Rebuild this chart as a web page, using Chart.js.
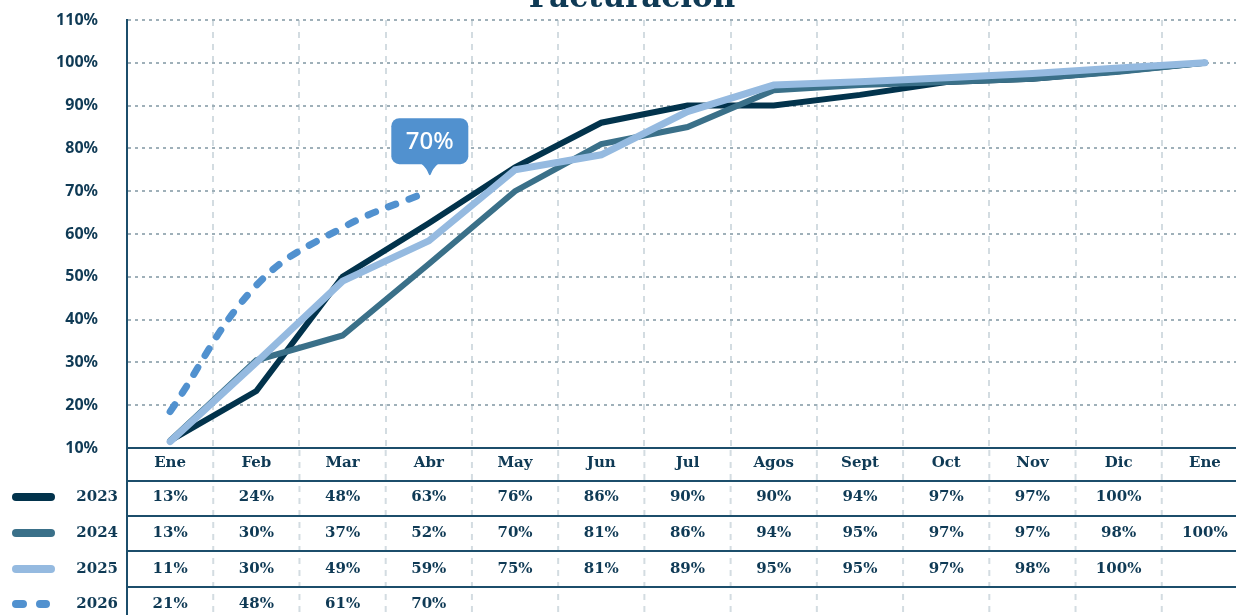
<!DOCTYPE html>
<html>
<head>
<meta charset="utf-8">
<script src="https://cdn.jsdelivr.net/npm/chart.js@4/dist/chart.umd.min.js"></script>
<style>
  html, body { margin: 0; padding: 0; background: #fff; overflow: hidden; }
  #wrap { width: 1250px; height: 615px; }
</style>
</head>
<body>
<div id="wrap"><canvas id="chart"></canvas></div>
<script>
// categories
const months = ['Ene', 'Feb', 'Mar', 'Abr', 'May', 'Jun', 'Jul', 'Agos', 'Sept', 'Oct', 'Nov', 'Dic', 'Ene'];
const years = ['2023', '2024', '2025', '2026'];

// values as drawn by the lines (%)
const line2023 = [11.7, 23.3, 50, 62.5, 75.6, 86, 90, 90, 92.5, 95.5, 96.3, 98, 100];
const line2024 = [11.7, 30.5, 36.3, 53, 70, 81, 85, 93.6, 94.8, 95.5, 96.3, 97.9, 100];
const line2025 = [11.5, 30, 49, 58.4, 75, 78.5, 88.6, 94.8, 95.6, 96.5, 97.5, 98.8, 100];
const line2026 = [18.5, 48, 61.5, 70];

// values printed in the table under the chart
const table2023 = ['13%', '24%', '48%', '63%', '76%', '86%', '90%', '90%', '94%', '97%', '97%', '100%', ''];
const table2024 = ['13%', '30%', '37%', '52%', '70%', '81%', '86%', '94%', '95%', '97%', '97%', '98%', '100%'];
const table2025 = ['11%', '30%', '49%', '59%', '75%', '81%', '89%', '95%', '95%', '97%', '98%', '100%', ''];
const table2026 = ['21%', '48%', '61%', '70%'];
const tableRows = [table2023, table2024, table2025, table2026];

const C_DARK = '#02334c';
const C_TEAL = '#3a7089';
const C_LIGHT = '#95bae0';
const C_DASH = '#5191cf';
const C_TEXT = '#0f3a55';
const C_RULE = '#1c4e6b';
const SLAB = '"DejaVu Serif", serif';
const SANS = '"Noto Sans", sans-serif';

const rowY = [497, 533, 569, 604];
const ruleY = [481, 516, 551, 587];

const tablePlugin = {
  id: 'tablePlugin',
  afterDraw(chart) {
    const ctx = chart.ctx;
    const x = chart.scales.x;
    const area = chart.chartArea;
    const colW = x.getPixelForValue(1) - x.getPixelForValue(0);
    const bottom = chart.height;
    ctx.save();

    // title, cut off by the top edge
    ctx.fillStyle = C_TEXT;
    ctx.font = 'bold 31px ' + SLAB;
    ctx.textAlign = 'center';
    ctx.textBaseline = 'alphabetic';
    ctx.fillText('Facturación', 632, 7);

    // dashed column separators in the table
    ctx.strokeStyle = '#d3dce1';
    ctx.lineWidth = 2;
    ctx.setLineDash([6, 6]);
    for (let i = 1; i <= months.length; i++) {
      const gx = area.left + i * colW;
      ctx.beginPath();
      ctx.moveTo(gx, area.bottom + 2);
      ctx.lineTo(gx, bottom);
      ctx.stroke();
    }
    ctx.setLineDash([]);

    // table rules
    ctx.strokeStyle = C_RULE;
    ctx.lineWidth = 2;
    ctx.beginPath();
    ctx.moveTo(area.left, area.bottom);
    ctx.lineTo(area.left, bottom);
    ruleY.forEach(y => {
      ctx.moveTo(area.left, y);
      ctx.lineTo(chart.width, y);
    });
    ctx.stroke();

    // table values
    ctx.fillStyle = C_TEXT;
    ctx.font = 'bold 15px ' + SLAB;
    ctx.textAlign = 'center';
    ctx.textBaseline = 'middle';
    tableRows.forEach((row, r) => {
      row.forEach((txt, i) => {
        if (txt) ctx.fillText(txt, x.getPixelForValue(i), rowY[r]);
      });
    });

    // legend column
    ctx.textAlign = 'right';
    years.forEach((yr, r) => ctx.fillText(yr, 118, rowY[r]));
    ctx.lineCap = 'round';
    ctx.lineWidth = 8;
    [C_DARK, C_TEAL, C_LIGHT].forEach((c, r) => {
      ctx.strokeStyle = c;
      ctx.beginPath();
      ctx.moveTo(16, rowY[r]);
      ctx.lineTo(51, rowY[r]);
      ctx.stroke();
    });
    ctx.strokeStyle = C_DASH;
    ctx.beginPath();
    ctx.moveTo(16, rowY[3]);
    ctx.lineTo(23, rowY[3]);
    ctx.moveTo(40, rowY[3]);
    ctx.lineTo(46, rowY[3]);
    ctx.stroke();

    ctx.restore();
  },
  afterDatasetsDraw(chart) {
    // callout on the last 2026 point
    const meta = chart.getDatasetMeta(0);
    const pt = meta.data[meta.data.length - 1];
    const ctx = chart.ctx;
    const cx = pt.x + 1, top = pt.y - 73, h = 46, w = 77;
    ctx.save();
    ctx.fillStyle = C_DASH;
    ctx.beginPath();
    ctx.roundRect(cx - w / 2, top, w, h, 8);
    ctx.fill();
    ctx.beginPath();
    ctx.moveTo(cx - 9, top + h - 1);
    ctx.quadraticCurveTo(cx - 3, top + h + 4, cx - 1, top + h + 10);
    ctx.quadraticCurveTo(cx, top + h + 12, cx + 1, top + h + 10);
    ctx.quadraticCurveTo(cx + 3, top + h + 4, cx + 9, top + h - 1);
    ctx.closePath();
    ctx.fill();
    ctx.fillStyle = '#ffffff';
    ctx.font = '500 24px ' + SANS;
    ctx.textAlign = 'center';
    ctx.textBaseline = 'middle';
    ctx.fillText(line2026[line2026.length - 1] + '%', cx, top + h / 2 + 1);
    ctx.restore();
  }
};

new Chart(document.getElementById('chart'), {
  type: 'line',
  data: {
    labels: months,
    datasets: [
      {
        label: '2026',
        data: line2026,
        borderColor: C_DASH,
        borderWidth: 7,
        borderDash: [8, 14],
        borderCapStyle: 'round',
        tension: 0.4,
        order: 0
      },
      {
        label: '2025',
        data: line2025,
        borderColor: C_LIGHT,
        borderWidth: 7,
        borderCapStyle: 'round',
        order: 1
      },
      {
        label: '2024',
        data: line2024,
        borderColor: C_TEAL,
        borderWidth: 6,
        borderCapStyle: 'round',
        order: 2
      },
      {
        label: '2023',
        data: line2023,
        borderColor: C_DARK,
        borderWidth: 6,
        order: 3
      }
    ]
  },
  options: {
    responsive: true,
    maintainAspectRatio: false,
    animation: false,
    layout: { padding: { top: 20, left: 0, right: 2, bottom: 0 } },
    elements: { point: { radius: 0, hoverRadius: 0 }, line: { fill: false } },
    plugins: {
      legend: { display: false },
      tooltip: { enabled: false },
      title: { display: false }
    },
    scales: {
      x: {
        offset: true,
        grid: { offset: true, color: '#d3dce1', lineWidth: 2, drawTicks: false },
        border: { display: true, color: C_RULE, width: 2, dash: [6, 6] },
        ticks: {
          padding: 6,
          color: C_TEXT,
          font: { family: SLAB, size: 15, weight: 'bold' },
          maxRotation: 0,
          autoSkip: false
        },
        afterFit(scale) { scale.height = 167; }
      },
      y: {
        min: 10,
        max: 110,
        grid: {
          color: '#9fb0b9',
          lineWidth: 2,
          drawTicks: true,
          tickLength: 27,
          tickColor: 'rgba(0,0,0,0)'
        },
        border: { display: true, color: C_RULE, width: 2, dash: [3, 4] },
        ticks: {
          stepSize: 10,
          padding: 2,
          color: C_TEXT,
          font: { family: SANS, size: 16, weight: 'bold' },
          callback: v => v + '%'
        },
        afterFit(scale) { scale.width = 127; }
      }
    }
  },
  plugins: [tablePlugin]
});
</script>
</body>
</html>
